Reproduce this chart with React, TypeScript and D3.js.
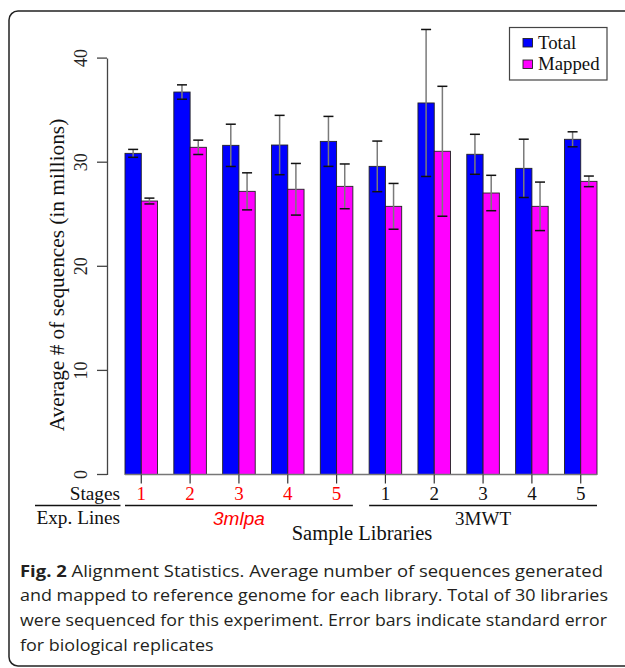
import { useEffect, useRef } from "react";
import * as d3 from "d3";

// values (millions of sequences)
const stages = ["1", "2", "3", "4", "5", "1", "2", "3", "4", "5"];
const expLines = ["3mlpa", "3MWT"];
const totalMean = [30.85, 36.74, 31.62, 31.65, 32.0, 29.6, 35.69, 30.76, 29.41, 32.2];
const totalSE = [0.38, 0.69, 2.03, 2.85, 2.4, 2.43, 7.06, 1.92, 2.8, 0.72];
const mappedMean = [26.27, 31.43, 27.2, 27.4, 27.68, 25.76, 31.05, 27.04, 25.76, 28.16];
const mappedSE = [0.28, 0.69, 1.78, 2.48, 2.15, 2.2, 6.24, 1.7, 2.33, 0.51];
const yTicks = [0, 10, 20, 30, 40];
const seriesNames = ["Total", "Mapped"];
const seriesColors = ["#0000ff", "#ff00ff"];
const captionLines = [
  "Alignment Statistics. Average number of sequences generated",
  "and mapped to reference genome for each library. Total of 30 libraries",
  "were sequenced for this experiment. Error bars indicate standard error",
  "for biological replicates",
];

export default function App() {
  const ref = useRef<SVGSVGElement>(null);

  useEffect(() => {
    if (!ref.current) return;
    const W = 625, H = 668;
    const serif = "'Liberation Serif', 'Times New Roman', serif";
    const svg = d3.select(ref.current).html("").attr("width", W).attr("height", H);

    svg.append("rect").attr("width", W).attr("height", H).attr("fill", "#fff");

    // rounded frame
    svg.append("rect")
      .attr("x", 9).attr("y", 11)
      .attr("width", 700).attr("height", 655)
      .attr("rx", 9)
      .attr("fill", "none")
      .attr("stroke", "#222")
      .attr("stroke-width", 1.5);

    const left = 125, right = 597, base = 474.5, top = 58.1;

    const x = d3.scaleBand<number>()
      .domain(d3.range(stages.length))
      .range([left, right])
      .paddingInner(1 / 3)
      .paddingOuter(0);
    const xs = d3.scaleBand<number>().domain([0, 1]).range([0, x.bandwidth()]);
    const y = d3.scaleLinear().domain([0, 40]).range([base, top]);

    // y axis
    const yAxis = svg.append("g")
      .attr("transform", `translate(107,0)`)
      .call(d3.axisLeft(y).tickValues(yTicks).tickSize(10).tickSizeOuter(0).tickPadding(10));
    yAxis.select(".domain").attr("stroke", "#444").attr("stroke-width", 1.3);
    yAxis.selectAll(".tick line").attr("stroke", "#444").attr("stroke-width", 1.3);
    yAxis.selectAll(".tick text")
      .attr("font-family", serif)
      .attr("font-size", 18)
      .attr("fill", "#222")
      .attr("text-anchor", "middle")
      .attr("dy", 0)
      .attr("x", 0)
      .attr("transform", (d: any) => `translate(-20,${y(d)}) rotate(-90)`)
      .attr("y", 0);
    yAxis.selectAll(".tick").attr("transform", null);
    yAxis.selectAll(".tick line")
      .attr("transform", (d: any) => `translate(0,${y(d)})`);

    svg.append("text")
      .attr("transform", "translate(63.5,275) rotate(-90)")
      .attr("text-anchor", "middle")
      .attr("font-family", serif)
      .attr("font-size", 21.3)
      .attr("fill", "#111")
      .text("Average # of sequences (in millions)");

    // bars
    const series = [
      { mean: totalMean, se: totalSE },
      { mean: mappedMean, se: mappedSE },
    ];
    series.forEach((s, k) => {
      svg.append("g").selectAll("rect")
        .data(s.mean)
        .join("rect")
        .attr("x", (_, i) => x(i)! + xs(k)!)
        .attr("y", d => y(d))
        .attr("width", xs.bandwidth())
        .attr("height", d => base - y(d))
        .attr("fill", seriesColors[k])
        .attr("stroke", "#222")
        .attr("stroke-width", 0.9);
    });

    // baseline
    svg.append("line")
      .attr("x1", left).attr("x2", right)
      .attr("y1", base).attr("y2", base)
      .attr("stroke", "#777").attr("stroke-width", 1.5);

    // error bars
    series.forEach((s, k) => {
      const g = svg.append("g");
      s.mean.forEach((m, i) => {
        const cx = x(i)! + xs(k)! + xs.bandwidth() / 2;
        const hi = y(m + s.se[i]), lo = y(m - s.se[i]);
        g.append("line")
          .attr("x1", cx).attr("x2", cx).attr("y1", hi).attr("y2", lo)
          .attr("stroke", "#7a7a7a").attr("stroke-width", 1.5);
        [hi, lo].forEach(yy => {
          g.append("line")
            .attr("x1", cx - 5).attr("x2", cx + 5).attr("y1", yy).attr("y2", yy)
            .attr("stroke", "#111").attr("stroke-width", 1.5);
        });
      });
    });

    // stage ticks and labels
    stages.forEach((s, i) => {
      const cx = x(i)! + x.bandwidth() / 2;
      svg.append("line")
        .attr("x1", cx).attr("x2", cx).attr("y1", base).attr("y2", 483.5)
        .attr("stroke", "#333").attr("stroke-width", 1.2);
      svg.append("text")
        .attr("x", cx).attr("y", 500)
        .attr("text-anchor", "middle")
        .attr("font-family", serif)
        .attr("font-size", 19)
        .attr("fill", i < 5 ? "#ff0000" : "#111")
        .text(s);
    });

    svg.append("text")
      .attr("x", 120).attr("y", 500)
      .attr("text-anchor", "end")
      .attr("font-family", serif).attr("font-size", 19.3).attr("fill", "#111")
      .text("Stages");
    svg.append("text")
      .attr("x", 120).attr("y", 524)
      .attr("text-anchor", "end")
      .attr("font-family", serif).attr("font-size", 19.3).attr("fill", "#111")
      .text("Exp. Lines");

    // group underlines
    svg.append("line")
      .attr("x1", 35).attr("x2", 120.5).attr("y1", 505.5).attr("y2", 505.5)
      .attr("stroke", "#111").attr("stroke-width", 1.5);
    expLines.forEach((name, j) => {
      const x0 = x(j * 5)!;
      const x1 = x(j * 5 + 4)! + x.bandwidth();
      svg.append("line")
        .attr("x1", x0).attr("x2", x1).attr("y1", 505.5).attr("y2", 505.5)
        .attr("stroke", "#111").attr("stroke-width", 1.5);
      svg.append("text")
        .attr("x", (x0 + x1) / 2).attr("y", 525)
        .attr("text-anchor", "middle")
        .attr("font-family", j === 0 ? "'Liberation Sans', Arial, sans-serif" : serif)
        .attr("font-style", j === 0 ? "italic" : "normal")
        .attr("font-size", 19)
        .attr("fill", j === 0 ? "#ff0000" : "#111")
        .text(name);
    });

    svg.append("text")
      .attr("x", 362).attr("y", 540)
      .attr("text-anchor", "middle")
      .attr("font-family", serif).attr("font-size", 20.5).attr("fill", "#111")
      .text("Sample Libraries");

    // legend
    const lg = svg.append("g");
    lg.append("rect")
      .attr("x", 509.5).attr("y", 27.5).attr("width", 97.5).attr("height", 52.5)
      .attr("fill", "#fff").attr("stroke", "#444").attr("stroke-width", 1.2);
    seriesNames.forEach((n, k) => {
      lg.append("rect")
        .attr("x", 523).attr("y", 38.5 + k * 21.5).attr("width", 9.5).attr("height", 8.5)
        .attr("fill", seriesColors[k]).attr("stroke", "#222").attr("stroke-width", 0.9);
      lg.append("text")
        .attr("x", 538).attr("y", 48.5 + k * 21.5)
        .attr("font-family", serif).attr("font-size", 18.8).attr("fill", "#111")
        .text(n);
    });

    // caption: squeeze each line to the width it has in the figure
    const cap = "'Open Sans', 'Noto Sans', sans-serif";
    const capWidths = [583, 588, 587, 0];
    const texts = captionLines.map((line, i) => {
      const t = svg.append("text")
        .attr("x", 20).attr("y", 576.5 + i * 24.7)
        .attr("font-family", cap).attr("font-size", 16.8).attr("fill", "#231f20");
      if (i === 0) {
        t.append("tspan").attr("font-weight", "bold").text("Fig. 2 ");
      }
      t.append("tspan").text(line);
      return t;
    });
    const natural = texts.map(t => (t.node() as SVGTextElement).getComputedTextLength());
    const k = natural[1] > 0 ? 588 / natural[1] : 1;
    texts.forEach((t, i) => {
      if (natural[i] > 0) {
        t.attr("textLength", capWidths[i] || natural[i] * k).attr("lengthAdjust", "spacingAndGlyphs");
      }
    });
  }, []);

  return (
    <div style={{ position: "absolute", left: 0, top: 0 }}>
      <svg ref={ref} />
    </div>
  );
}
